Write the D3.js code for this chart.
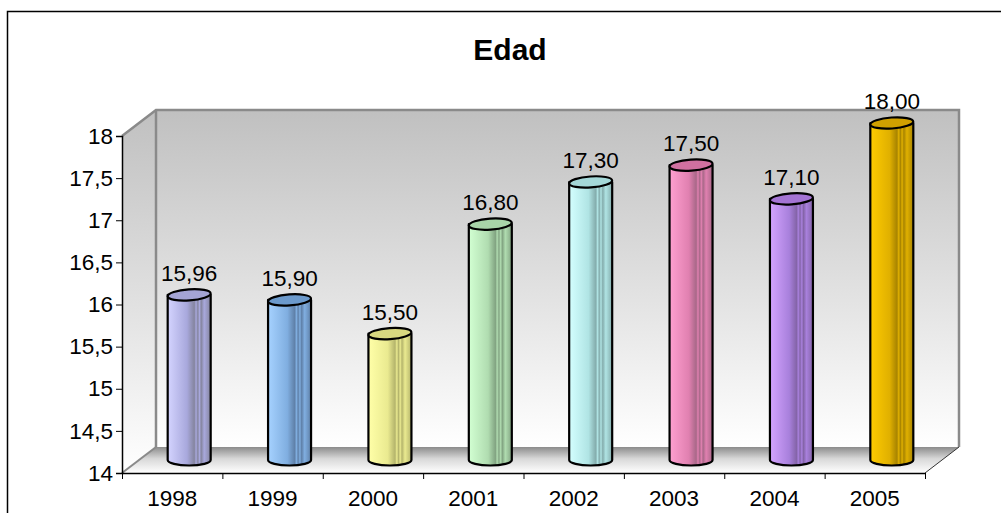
<!DOCTYPE html>
<html>
<head>
<meta charset="utf-8">
<script src="https://cdn.jsdelivr.net/npm/d3@7"></script>
<style>
  body { margin: 0; background: #fff; }
  text { font-family: Arial, "Liberation Sans", sans-serif; }
</style>
</head>
<body>
<div id="chart-area"></div>
<script>
// data
var years = ["1998", "1999", "2000", "2001", "2002", "2003", "2004", "2005"]
var values = [15.96, 15.90, 15.50, 16.80, 17.30, 17.50, 17.10, 18.00]
var yTicks = [14, 14.5, 15, 15.5, 16, 16.5, 17, 17.5, 18]
// light side, mid, dark side, top
var barColors = [
  ["#d4d4ff", "#a8a8dc", "#85859f", "#a4a4d4"],
  ["#a6d2ff", "#80aee0", "#5f80a8", "#6c9acc"],
  ["#ffffa8", "#eaea90", "#b4b46c", "#d8d880"],
  ["#d2ffd2", "#b0dcb0", "#82a482", "#a8d4a8"],
  ["#d4ffff", "#b0e4e4", "#84acac", "#a4d8d8"],
  ["#ffa0d0", "#e080b0", "#a86888", "#d070a0"],
  ["#d4a4ff", "#a880dc", "#8464a8", "#a474d4"],
  ["#ffcc00", "#e0b000", "#a88400", "#d0a000"]
]

var W = 1001, H = 513
var pLeft = 122, pRight = 925, pBottom = 473, pTop = 136
var dx = 34, dy = -26

var loc = d3.formatLocale({decimal: ",", thousands: ".", grouping: [3], currency: ["", ""]})
var fmtVal = loc.format(".2f")
var fmtTick = loc.format(".1~f")

var svg = d3.select("#chart-area")
  .append("svg")
  .attr("width", W)
  .attr("height", H)

var defs = svg.append("defs")

var wallGrad = defs.append("linearGradient").attr("id", "wallGrad")
  .attr("gradientUnits", "userSpaceOnUse")
  .attr("x1", 0).attr("y1", pTop + dy).attr("x2", 0).attr("y2", pBottom + dy)
wallGrad.append("stop").attr("offset", "0%").attr("stop-color", "#c0c0c0")
wallGrad.append("stop").attr("offset", "55%").attr("stop-color", "#e2e2e2")
wallGrad.append("stop").attr("offset", "100%").attr("stop-color", "#ffffff")

var sideGrad = defs.append("linearGradient").attr("id", "sideGrad")
  .attr("gradientUnits", "userSpaceOnUse")
  .attr("x1", 0).attr("y1", pTop + dy).attr("x2", 0).attr("y2", pBottom)
sideGrad.append("stop").attr("offset", "0%").attr("stop-color", "#c0c0c0")
sideGrad.append("stop").attr("offset", "55%").attr("stop-color", "#e2e2e2")
sideGrad.append("stop").attr("offset", "100%").attr("stop-color", "#ffffff")

var floorGrad = defs.append("linearGradient").attr("id", "floorGrad")
  .attr("gradientUnits", "userSpaceOnUse")
  .attr("x1", 0).attr("y1", pBottom + dy).attr("x2", 0).attr("y2", pBottom)
floorGrad.append("stop").attr("offset", "0%").attr("stop-color", "#8c8c8c")
floorGrad.append("stop").attr("offset", "45%").attr("stop-color", "#d8d8d8")
floorGrad.append("stop").attr("offset", "100%").attr("stop-color", "#ffffff")

barColors.forEach(function(c, i) {
  var g = defs.append("linearGradient").attr("id", "bar" + i)
    .attr("x1", "0%").attr("x2", "100%").attr("y1", "0%").attr("y2", "0%")
  var stops = [[0, c[0]], [0.45, c[1]], [0.62, c[2]], [0.66, c[1]], [0.7, c[2]],
    [0.74, c[1]], [0.78, c[2]], [0.85, c[1]], [1, c[2]]]
  stops.forEach(function(s) {
    g.append("stop").attr("offset", s[0]).attr("stop-color", s[1])
  })
})

// outer border
svg.append("rect")
  .attr("x", 7.5).attr("y", 11.5)
  .attr("width", 1000).attr("height", 510)
  .attr("fill", "none").attr("stroke", "#000").attr("stroke-width", 1.5)

svg.append("text")
  .attr("x", 510).attr("y", 60)
  .attr("text-anchor", "middle")
  .attr("font-size", 30).attr("font-weight", "bold")
  .text("Edad")

var y = d3.scaleLinear().domain([14, 18]).range([pBottom, pTop])
var x = d3.scaleBand().domain(years).range([pLeft, pRight])
var xEdge = d3.scaleLinear().domain([0, years.length]).range([pLeft, pRight])

// walls and floor
svg.append("path")
  .attr("d", "M" + pLeft + "," + pTop + "L" + (pLeft + dx) + "," + (pTop + dy) +
    "L" + (pLeft + dx) + "," + (pBottom + dy) + "L" + pLeft + "," + pBottom + "Z")
  .attr("fill", "url(#sideGrad)")
svg.append("rect")
  .attr("x", pLeft + dx).attr("y", pTop + dy)
  .attr("width", pRight - pLeft).attr("height", pBottom - pTop)
  .attr("fill", "url(#wallGrad)")
svg.append("path")
  .attr("d", "M" + pLeft + "," + pBottom + "L" + (pLeft + dx) + "," + (pBottom + dy) +
    "L" + (pRight + dx) + "," + (pBottom + dy) + "L" + pRight + "," + pBottom + "Z")
  .attr("fill", "url(#floorGrad)")

var edges = svg.append("g").attr("stroke", "#8a8a8a").attr("stroke-width", 2.5).attr("fill", "none")
edges.append("path")
  .attr("d", "M" + pLeft + "," + pTop + "L" + (pLeft + dx) + "," + (pTop + dy) +
    "L" + (pRight + dx) + "," + (pTop + dy) + "L" + (pRight + dx) + "," + (pBottom + dy))
edges.append("path")
  .attr("d", "M" + (pLeft + dx) + "," + (pTop + dy) + "L" + (pLeft + dx) + "," + (pBottom + dy))
edges.append("path").attr("stroke-width", 2)
  .attr("d", "M" + pLeft + "," + pBottom + "L" + (pLeft + dx) + "," + (pBottom + dy))
svg.append("path")
  .attr("stroke", "#333").attr("stroke-width", 1).attr("fill", "none")
  .attr("d", "M" + pRight + "," + pBottom + "L" + (pRight + dx) + "," + (pBottom + dy))

// axes
var yAxis = svg.append("g")
  .attr("transform", "translate(" + pLeft + ",0)")
  .call(d3.axisLeft(y).tickValues(yTicks).tickSize(6).tickPadding(3).tickFormat(fmtTick))
yAxis.select(".domain").attr("stroke", "#000").attr("stroke-width", 1.5)
yAxis.selectAll("text").attr("font-size", 22.5).attr("fill", "#000")
  .style("font-family", "Arial, 'Liberation Sans', sans-serif")

var xTickAxis = svg.append("g")
  .attr("transform", "translate(0," + pBottom + ")")
  .call(d3.axisBottom(xEdge).tickValues(d3.range(years.length + 1)).tickSize(6).tickSizeOuter(0).tickFormat(""))
xTickAxis.select(".domain").attr("stroke", "#000").attr("stroke-width", 1.5)

var xAxis = svg.append("g")
  .attr("transform", "translate(0," + pBottom + ")")
  .call(d3.axisBottom(x).tickSize(0).tickPadding(17))
xAxis.select(".domain").remove()
xAxis.selectAll("text").attr("font-size", 22.5).attr("fill", "#000")
  .style("font-family", "Arial, 'Liberation Sans', sans-serif")

// cylinders
var rx = 21.5, ry = 5.5
var bars = svg.selectAll("g.bar")
  .data(values)
  .enter()
  .append("g")
  .attr("class", "bar")

bars.append("path")
  .attr("d", function(d, i) {
    var cx = x(years[i]) + x.bandwidth() / 2 + dx / 2
    var yb = y(14) + dy / 2, yt = y(d) + dy / 2
    return "M" + (cx - rx) + "," + yt + "L" + (cx - rx) + "," + yb +
      "A" + rx + "," + ry + " 0 0 0 " + (cx + rx) + "," + yb +
      "L" + (cx + rx) + "," + yt + "Z"
  })
  .attr("fill", function(d, i) { return "url(#bar" + i + ")" })
  .attr("stroke", "#000").attr("stroke-width", 2.2).attr("stroke-linejoin", "round")

bars.append("ellipse")
  .attr("cx", function(d, i) { return x(years[i]) + x.bandwidth() / 2 + dx / 2 })
  .attr("cy", function(d) { return y(d) + dy / 2 })
  .attr("rx", rx).attr("ry", ry)
  .attr("transform", function(d, i) {
    return "rotate(-4," + (x(years[i]) + x.bandwidth() / 2 + dx / 2) + "," + (y(d) + dy / 2) + ")"
  })
  .attr("fill", function(d, i) { return barColors[i][3] })
  .attr("stroke", "#000").attr("stroke-width", 2.2)

bars.append("text")
  .attr("x", function(d, i) { return x(years[i]) + x.bandwidth() / 2 + dx / 2 })
  .attr("y", function(d) { return y(d) + dy / 2 - 14 })
  .attr("text-anchor", "middle")
  .attr("font-size", 22.5)
  .text(function(d) { return fmtVal(d) })
</script>
</body>
</html>
